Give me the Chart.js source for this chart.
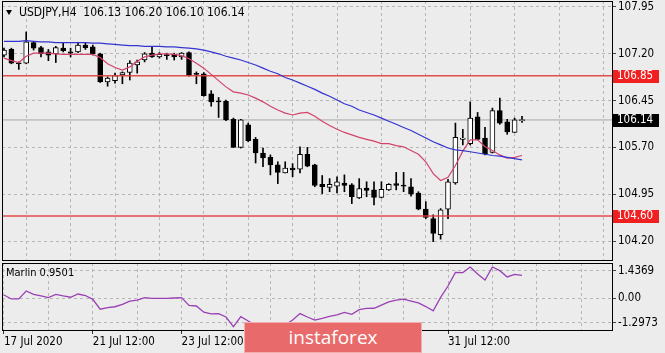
<!DOCTYPE html>
<html>
<head>
<meta charset="utf-8">
<script src="https://cdn.jsdelivr.net/npm/chart.js@4.4.1/dist/chart.umd.min.js"></script>
<style>
  html, body { margin:0; padding:0; width:665px; height:353px; overflow:hidden; background:#ececec; }
  canvas { position:absolute; left:0; }
  #mainCanvas { top:0; width:665px; height:262px; }
  #indCanvas { top:260px; width:665px; height:93px; }
  .txt { position:absolute; font-family:'DejaVu Sans Condensed','DejaVu Sans',sans-serif; color:#000; white-space:pre; line-height:14px; }
  #hdr { left:19px; top:5px; font-size:12px; }
  #tri { position:absolute; left:6px; top:10px; width:0; height:0; border-left:3.5px solid transparent; border-right:3.5px solid transparent; border-top:5px solid #000; }
  #mlabel { left:6px; top:266px; font-size:11px; }
  #logo { position:absolute; left:244px; top:322px; width:178px; height:31px; background:#e86a6a; color:#fff; font-family:'Open Sans','Lato',sans-serif; font-size:19px; line-height:29px; text-align:center; box-sizing:border-box; border:1px solid rgba(255,255,255,0.45); }
</style>
</head>
<body>
<canvas id="mainCanvas" width="665" height="262"></canvas>
<canvas id="indCanvas" width="665" height="93"></canvas>
<div id="tri"></div>
<div class="txt" id="hdr">USDJPY,H4  106.13 106.20 106.10 106.14</div>
<div class="txt" id="mlabel">Marlin 0.9501</div>
<div id="logo">instaforex</div>
<script>
// ---- data (H4 candles, index 0 = 17 Jul 2020 12:00) ----
const open = [
  107.18,107.27,107.05,107.05,107.38,107.30,107.23,107.20,107.29,107.23,
  107.23,107.34,107.31,107.20,106.75,106.77,106.86,106.90,107.02,107.10,
  107.21,107.15,107.18,107.19,107.15,107.22,106.88,106.88,106.56,106.44,
  106.44,106.15,105.70,106.06,105.83,105.61,105.54,105.42,105.29,105.37,
  105.35,105.59,105.42,105.11,105.06,105.08,105.13,105.10,104.89,105.05,
  105.02,104.90,105.02,105.12,105.09,105.07,104.97,104.71,104.56,104.30,
  104.71,105.13,105.83,105.76,106.19,105.85,105.62,106.29,106.11,105.94,106.13];
const high = [
  107.29,107.29,107.07,107.55,107.40,107.32,107.27,107.32,107.37,107.29,
  107.37,107.38,107.34,107.21,106.83,106.89,106.91,107.09,107.10,107.22,
  107.32,107.22,107.21,107.21,107.22,107.23,106.91,106.90,106.61,106.50,
  106.46,106.17,106.15,106.09,105.86,105.69,105.58,105.47,105.47,105.44,
  105.71,105.70,105.43,105.25,105.20,105.23,105.26,105.12,105.20,105.15,
  105.15,105.15,105.12,105.30,105.30,105.20,104.99,104.83,104.62,104.72,
  105.19,106.09,105.99,106.43,106.26,106.02,106.33,106.49,106.15,106.17,106.20];
const low = [
  107.15,107.04,106.95,107.04,107.26,107.15,107.09,107.06,107.23,107.15,
  107.22,107.27,107.18,106.74,106.68,106.73,106.72,106.78,106.89,107.07,
  107.14,107.13,107.11,107.10,107.11,106.84,106.72,106.52,106.36,106.18,
  106.13,105.70,105.69,105.79,105.45,105.39,105.26,105.12,105.29,105.23,
  105.29,105.39,105.07,104.96,104.99,104.97,104.99,104.80,104.88,104.91,
  104.78,104.89,105.01,105.02,104.99,104.92,104.70,104.56,104.19,104.23,
  104.56,105.11,105.74,105.74,105.82,105.58,105.61,106.07,105.91,105.94,106.10];
const close = [
  107.26,107.05,107.04,107.39,107.29,107.20,107.18,107.30,107.25,107.21,
  107.34,107.30,107.20,106.75,106.81,106.85,106.90,107.05,107.07,107.20,
  107.15,107.19,107.17,107.15,107.21,106.85,106.87,106.53,106.43,106.43,
  106.14,105.70,106.14,105.81,105.61,105.53,105.42,105.30,105.37,105.34,
  105.59,105.40,105.09,105.07,105.11,105.15,105.09,104.91,105.04,105.01,
  104.90,105.03,105.11,105.09,105.08,104.95,104.71,104.58,104.32,104.70,
  105.15,105.86,105.85,106.17,105.83,105.60,106.29,106.09,105.95,106.14,106.14];
const maFast = [
  107.13,107.09,107.06,107.16,107.21,107.21,107.21,107.20,107.19,107.19,
  107.19,107.19,107.19,107.14,107.04,106.98,106.94,106.99,107.08,107.15,
  107.18,107.20,107.20,107.19,107.17,107.12,107.05,106.97,106.87,106.77,
  106.67,106.59,106.57,106.54,106.49,106.43,106.36,106.30,106.25,106.22,
  106.25,106.26,106.20,106.12,106.05,105.99,105.94,105.90,105.86,105.83,
  105.80,105.76,105.76,105.73,105.71,105.65,105.59,105.47,105.28,105.17,
  105.22,105.41,105.64,105.82,105.82,105.71,105.65,105.58,105.53,105.54,105.57];
const maSlow = [
  107.40,107.40,107.40,107.41,107.40,107.39,107.39,107.38,107.38,107.38,
  107.38,107.38,107.37,107.37,107.36,107.35,107.34,107.33,107.33,107.32,
  107.32,107.32,107.31,107.31,107.30,107.29,107.28,107.26,107.23,107.20,
  107.16,107.13,107.10,107.06,107.02,106.97,106.92,106.88,106.82,106.78,
  106.73,106.68,106.63,106.57,106.52,106.46,106.40,106.36,106.30,106.26,
  106.22,106.17,106.12,106.07,106.02,105.97,105.91,105.85,105.79,105.74,
  105.69,105.66,105.65,105.63,105.61,105.59,105.57,105.56,105.54,105.52,105.50];
const marlin = [
  0.16,-0.05,-0.05,0.37,0.19,0.11,0.02,0.19,0.11,0.04,
  0.21,0.13,-0.07,-0.59,-0.51,-0.46,-0.34,-0.16,-0.11,0.02,
  -0.02,-0.02,-0.02,0.00,0.02,-0.39,-0.42,-0.75,-0.84,-0.82,
  -1.00,-1.51,-0.98,-1.21,-1.42,-1.53,-1.47,-1.58,-1.42,-1.16,
  -0.82,-1.00,-1.16,-1.07,-0.97,-0.89,-0.76,-0.86,-0.61,-0.55,
  -0.54,-0.37,-0.21,-0.11,-0.06,-0.16,-0.26,-0.45,-0.68,0.03,
  0.63,1.35,1.34,1.63,1.26,0.95,1.63,1.44,1.11,1.24,1.19];
const priceTicks = [104.20,104.95,105.70,106.45,107.20,107.95];
const levelLines = [106.85,104.60];
const lastPrice = 106.14;
const dateTickIndex = [0,12,24,36,48,60];
const dateTickLabels = ['17 Jul 2020','21 Jul 12:00','23 Jul 12:00','27 Jul 12:00','29 Jul 12:00','31 Jul 12:00'];
const marlinTicks = [-1.2973,0,1.4369];
const marlinTickLabels = ['-1.2973','0.00','1.4369'];

// ---- setup ----
const FONT = "'DejaVu Sans Condensed','DejaVu Sans',sans-serif";
Chart.defaults.font.family = FONT;
Chart.defaults.font.size = 11.5;
Chart.defaults.color = '#000';

const X_MIN = -0.27, X_MAX = 82.16;
const idx = open.map((_, i) => i);
const gridTicks = [];
for (let v = 0; v <= X_MAX; v += 6) gridTicks.push(v);
const GRID = '#b6b6b6';

const frame = {
  id: 'frame',
  afterDatasetsDraw(chart) {
    const a = chart.chartArea, ctx = chart.ctx;
    ctx.save();
    ctx.strokeStyle = '#000'; ctx.lineWidth = 1;
    ctx.strokeRect(Math.round(a.left) + 0.5, Math.round(a.top) + 0.5,
                   Math.round(a.right - a.left), Math.round(a.bottom - a.top));
    ctx.restore();
  }
};
const priceTags = {
  id: 'priceTags',
  afterDraw(chart) {
    const ys = chart.scales.y, ctx = chart.ctx;
    const tags = [{v: levelLines[0], bg: '#f02020'}, {v: levelLines[1], bg: '#f02020'}, {v: lastPrice, bg: '#000'}];
    ctx.save();
    ctx.font = '11.5px ' + FONT;
    ctx.textBaseline = 'middle'; ctx.textAlign = 'left';
    tags.forEach(t => {
      const py = Math.round(ys.getPixelForValue(t.v));
      ctx.fillStyle = t.bg; ctx.fillRect(613, py - 6, 46, 13);
      ctx.fillStyle = '#fff'; ctx.fillText(t.v.toFixed(2), 617, py + 0.5);
    });
    ctx.restore();
  }
};

const hLine = (v, color, w, order) => ({
  type: 'line', data: [{x: X_MIN, y: v}, {x: X_MAX, y: v}],
  borderColor: color, borderWidth: w, pointRadius: 0, order: order
});

new Chart(document.getElementById('mainCanvas'), {
  type: 'bar',
  data: {
    datasets: [
      {type: 'line', data: idx.map(i => ({x: i, y: maSlow[i]})), borderColor: '#3434d2', borderWidth: 1.2, pointRadius: 0, order: 0},
      {type: 'line', data: idx.map(i => ({x: i, y: maFast[i]})), borderColor: '#d2436a', borderWidth: 1.2, pointRadius: 0, order: 0},
      hLine(levelLines[0], 'rgba(226,60,60,0.9)', 1.5, 1),
      hLine(levelLines[1], 'rgba(226,60,60,0.9)', 1.5, 1),
      hLine(lastPrice, '#a8a8a8', 1, 6),
      {type: 'bar', data: idx.map(i => ({x: i, y: [low[i], high[i]]})), backgroundColor: '#000', barThickness: 1, grouped: false, order: 4},
      {type: 'bar', data: idx.map(i => ({x: i, y: [open[i], close[i]]})),
       backgroundColor: idx.map(i => close[i] > open[i] ? '#ffffff' : '#000000'),
       borderColor: '#000', borderWidth: 1, borderSkipped: false, barThickness: 5, minBarLength: 1, grouped: false, order: 3}
    ]
  },
  options: {
    responsive: false, animation: false, devicePixelRatio: 1,
    layout: {padding: {left: 2, top: 1, right: 0, bottom: 2}, autoPadding: false},
    plugins: {legend: {display: false}, tooltip: {enabled: false}},
    scales: {
      x: {type: 'linear', min: X_MIN, max: X_MAX, offset: false,
          afterBuildTicks: s => { s.ticks = gridTicks.map(v => ({value: v})); },
          ticks: {display: false},
          grid: {color: GRID, drawTicks: false},
          border: {display: false, dash: [3, 3]},
          afterFit: s => { s.height = 0; s.paddingLeft = 0; s.paddingRight = 0; }},
      y: {position: 'right', min: 103.896, max: 108.046,
          afterBuildTicks: s => { s.ticks = priceTicks.map(v => ({value: v})); },
          ticks: {callback: v => Number(v).toFixed(2), padding: 2},
          grid: {color: GRID, tickColor: '#444', tickLength: 4},
          border: {display: false, dash: [3, 3]},
          afterFit: s => { s.width = 53; s.paddingTop = 0; s.paddingBottom = 0; }}
    }
  },
  plugins: [frame, priceTags]
});

new Chart(document.getElementById('indCanvas'), {
  type: 'line',
  data: {datasets: [{data: idx.map(i => ({x: i, y: marlin[i]})), borderColor: '#9b40b4', borderWidth: 1.3, pointRadius: 0}]},
  options: {
    responsive: false, animation: false, devicePixelRatio: 1,
    layout: {padding: {left: 2, top: 3, right: 0, bottom: 0}, autoPadding: false},
    plugins: {legend: {display: false}, tooltip: {enabled: false}},
    scales: {
      x: {type: 'linear', min: X_MIN, max: X_MAX, offset: false,
          afterBuildTicks: s => { s.ticks = gridTicks.map(v => ({value: v})); },
          ticks: {autoSkip: false, maxRotation: 0, minRotation: 0, align: 'start', padding: 1,
                  callback: v => { const k = dateTickIndex.indexOf(v); return k >= 0 ? dateTickLabels[k] : ''; }},
          grid: {color: GRID, tickLength: 4,
                 tickColor: c => (c.tick && dateTickIndex.includes(c.tick.value)) ? '#333' : 'rgba(0,0,0,0)'},
          border: {display: false, dash: [3, 3]},
          afterFit: s => { s.height = 23; s.paddingLeft = 0; s.paddingRight = 0; }},
      y: {position: 'right', min: -1.684, max: 1.842,
          afterBuildTicks: s => { s.ticks = marlinTicks.map(v => ({value: v})); },
          ticks: {padding: 2, callback: v => { const k = marlinTicks.indexOf(v); return k >= 0 ? marlinTickLabels[k] : ''; }},
          grid: {color: GRID, tickColor: '#444', tickLength: 4},
          border: {display: false, dash: [3, 3]},
          afterFit: s => { s.width = 53; s.paddingTop = 0; s.paddingBottom = 0; }}
    }
  },
  plugins: [frame]
});
</script>
</body>
</html>
